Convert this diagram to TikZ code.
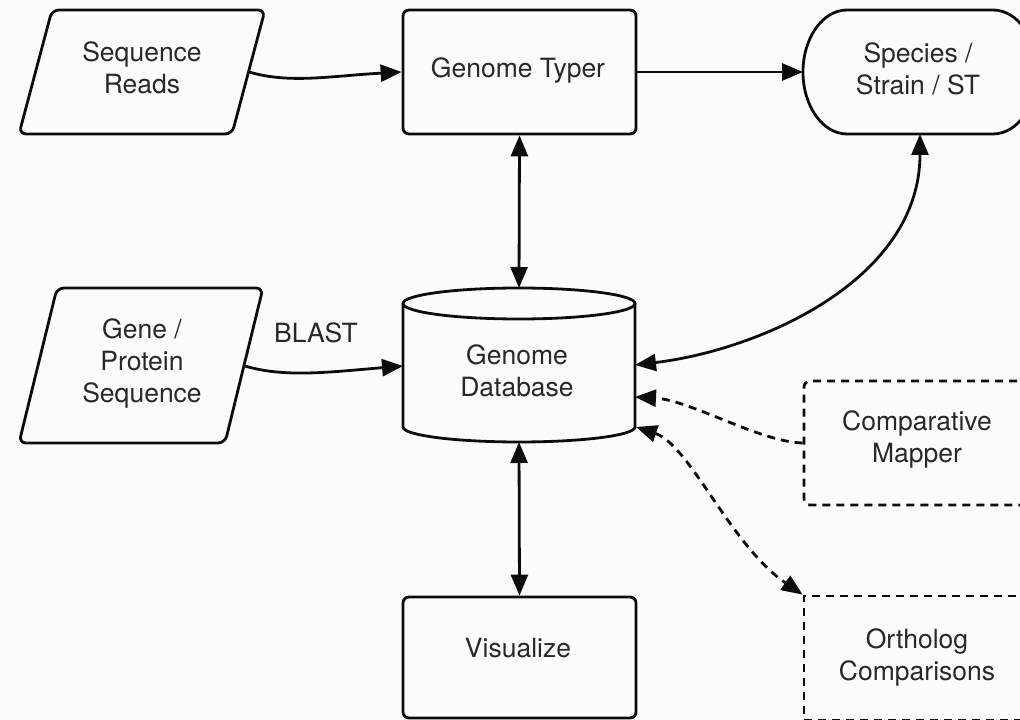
\documentclass[tikz,border=0pt]{standalone}
\usepackage{fontspec}
\setmainfont{TeX Gyre Heros}
\usetikzlibrary{arrows.meta}
\definecolor{bg}{RGB}{252,252,250}
\definecolor{ink}{RGB}{12,12,12}
\definecolor{txt}{RGB}{40,40,40}
\begin{document}
\begin{tikzpicture}[x=1pt,y=1pt,line width=2.8pt,draw=ink,
  lbl/.style={font=\fontsize{26.5}{32}\selectfont,text=txt,align=center,inner sep=0pt},
  box/.style={draw=ink,fill=bg,rounded corners=6pt,minimum width=233pt,minimum height=124pt,inner sep=0pt},
  dbox/.style={box,dash pattern=on 8pt off 6pt},
  tri/.tip={Triangle[length=21pt,width=17pt]},
  onetip/.style={-tri},
  twotip/.style={tri-tri},
  dsh/.style={dash pattern=on 8pt off 6pt}]
\useasboundingbox[fill=bg] (0,0) rectangle (1020,720);
\clip (0,0) rectangle (1020,720);

% Sequence Reads (parallelogram)
\draw[fill=bg,rounded corners=7pt] (52,710) -- (265,710) -- (232,586) -- (19,586) -- cycle;
\node[lbl] (seq) at (142,652) {Sequence\\Reads};
\coordinate (seq-e) at (249,648);

% Genome Typer
\node[box] (typer) at (519.5,648) {};
\node[lbl] (typerlbl) at (518,650) {Genome Typer};

% Species / Strain / ST (pill)
\draw[fill=bg] (847,710) -- (993,710) arc[start angle=90,end angle=-90,x radius=44pt,y radius=62pt]
  -- (847,586) arc[start angle=270,end angle=90,x radius=44pt,y radius=62pt] -- cycle;
\node[lbl] (species) at (918,651) {Species /\\Strain / ST};
\coordinate (sp-w) at (803,648);
\coordinate (sp-s) at (920,586);

% Gene / Protein Sequence (parallelogram)
\draw[fill=bg,rounded corners=7pt] (57,432) -- (263,432) -- (225,277) -- (19,277) -- cycle;
\node[lbl] (gene) at (142,357) {Gene /\\Protein\\Sequence};
\coordinate (gene-e) at (245,354);
\node[lbl] (blast) at (316,387) {BLAST};

% Genome Database (cylinder)
\fill[bg] (403,416.5) -- (403,293) arc[start angle=180,end angle=360,x radius=116pt,y radius=15pt]
  -- (635,416.5) arc[start angle=0,end angle=180,x radius=116pt,y radius=15.5pt] -- cycle;
\draw (403,416.5) -- (403,293) arc[start angle=180,end angle=360,x radius=116pt,y radius=15pt] -- (635,416.5);
\draw (519,416.5) ellipse[x radius=116pt,y radius=15.5pt];
\node[lbl] (db) at (517,349) {Genome\\Database};
\coordinate (db-n) at (519,432);
\coordinate (db-s) at (519,278);
\coordinate (db-w) at (403,354);
\coordinate (db-e1) at (635,355);
\coordinate (db-e2) at (635,323);
\coordinate (db-e3) at (636,293);

% Comparative Mapper
\node[dbox] (comp) at (920.5,277) {};
\node[lbl] (complbl) at (917,281) {Comparative\\Mapper};

% Ortholog Comparisons
\node[dbox,sharp corners] (orth) at (920.5,62) {};
\node[lbl] (orthlbl) at (917,62.5) {Ortholog\\Comparisons};

% Visualize
\node[box,minimum height=121pt] (vis) at (519.5,62.5) {};
\node[lbl] (vislbl) at (518,72) {Visualize};

% connectors
\draw[onetip] (seq-e) .. controls (290,636) and (330,644) .. (typer.west);
\draw[onetip] (typer.east) -- (sp-w);
\draw[twotip] (typer.south) -- (db-n);
\draw[onetip] (gene-e) .. controls (285,342) and (330,348) .. (db-w);
\draw[twotip] (db-e1) .. controls (760,370) and (920,440) .. (sp-s);
\draw[onetip,dsh] (comp.west) .. controls (760,278) and (690,320) .. (db-e2);
\draw[twotip,dsh] (db-e3) .. controls (690,275) and (730,175) .. (orth.north west);
\draw[twotip] (db-s) -- (vis.north);
\end{tikzpicture}
\end{document}
